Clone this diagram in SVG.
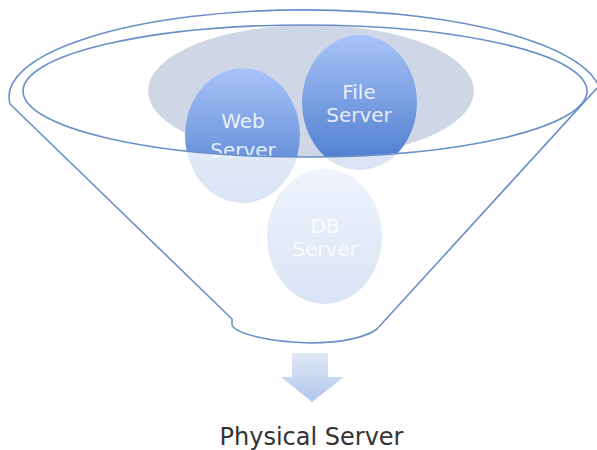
<svg xmlns="http://www.w3.org/2000/svg" width="597" height="450" viewBox="0 0 597 450">
  <defs>
    <linearGradient id="gSat" x1="0" y1="0" x2="0" y2="1">
      <stop offset="0" stop-color="#a8c3f8"/>
      <stop offset="1" stop-color="#4a7acc"/>
    </linearGradient>
    <linearGradient id="gPale" x1="0" y1="0" x2="0" y2="1">
      <stop offset="0" stop-color="#eff4fd"/>
      <stop offset="1" stop-color="#d9e3f4"/>
    </linearGradient>
    <linearGradient id="gArrow" x1="0" y1="0" x2="0" y2="1">
      <stop offset="0" stop-color="#e0e8f7"/>
      <stop offset="1" stop-color="#b0c5ec"/>
    </linearGradient>
    <!-- mouth of the funnel: items inside it are drawn in full colour -->
    <clipPath id="mouth">
      <ellipse cx="305" cy="91" rx="282" ry="66"/>
    </clipPath>
  </defs>
  <style>
    .rim { fill: none; stroke: #6a8fc8; stroke-width: 1.6; }
    .pale { fill: url(#gPale); }
    .sat { fill: url(#gSat); }
    .lbl { font-family: "DejaVu Sans", "Noto Sans", sans-serif; font-size: 20px; fill: #ffffff; fill-opacity: 0.85; text-anchor: middle; }
    .title { font-family: "DejaVu Sans", "Noto Sans", sans-serif; font-size: 24px; fill: #333333; text-anchor: middle; }
  </style>

  <!-- backdrop inside the funnel mouth -->
  <ellipse id="backdrop" cx="311" cy="91" rx="163" ry="66" fill="#cfd6e6"/>

  <g id="db-server">
    <ellipse class="pale" cx="324.5" cy="236.5" rx="57.5" ry="67.5"/>
    <text class="lbl" x="325" y="232.5">DB</text>
    <text class="lbl" x="325" y="255.5">Server</text>
  </g>

  <g id="web-server">
    <ellipse class="pale" cx="242.5" cy="135.5" rx="57.5" ry="67.5"/>
    <ellipse class="sat" cx="242.5" cy="135.5" rx="57.5" ry="67.5" clip-path="url(#mouth)"/>
    <text class="lbl" x="243" y="128">Web</text>
    <text class="lbl" x="243" y="156.5">Server</text>
  </g>

  <g id="file-server">
    <ellipse class="pale" cx="359.5" cy="102.5" rx="57.5" ry="67.5"/>
    <ellipse class="sat" cx="359.5" cy="102.5" rx="57.5" ry="67.5" clip-path="url(#mouth)"/>
    <text class="lbl" x="359" y="99">File</text>
    <text class="lbl" x="359" y="121.5">Server</text>
  </g>

  <g id="funnel">
    <ellipse class="rim" cx="305" cy="91" rx="282" ry="66"/>
    <path class="rim" d="M 10,104 A 296 87 0 1 1 600,104"/>
    <path class="rim" d="M 597,88 L 377,329 C 368,336 345,343 310,343 C 270,342 236,334 232,325 L 232,319 L 10,104"/>
  </g>

  <g id="connectors">
    <path d="M 292,353 L 328,353 L 328,377 L 344,377 L 312,402 L 281,377 L 292,377 Z" fill="url(#gArrow)"/>
  </g>

  <g id="physical-server">
    <text class="title" x="311.5" y="445">Physical Server</text>
  </g>
</svg>
